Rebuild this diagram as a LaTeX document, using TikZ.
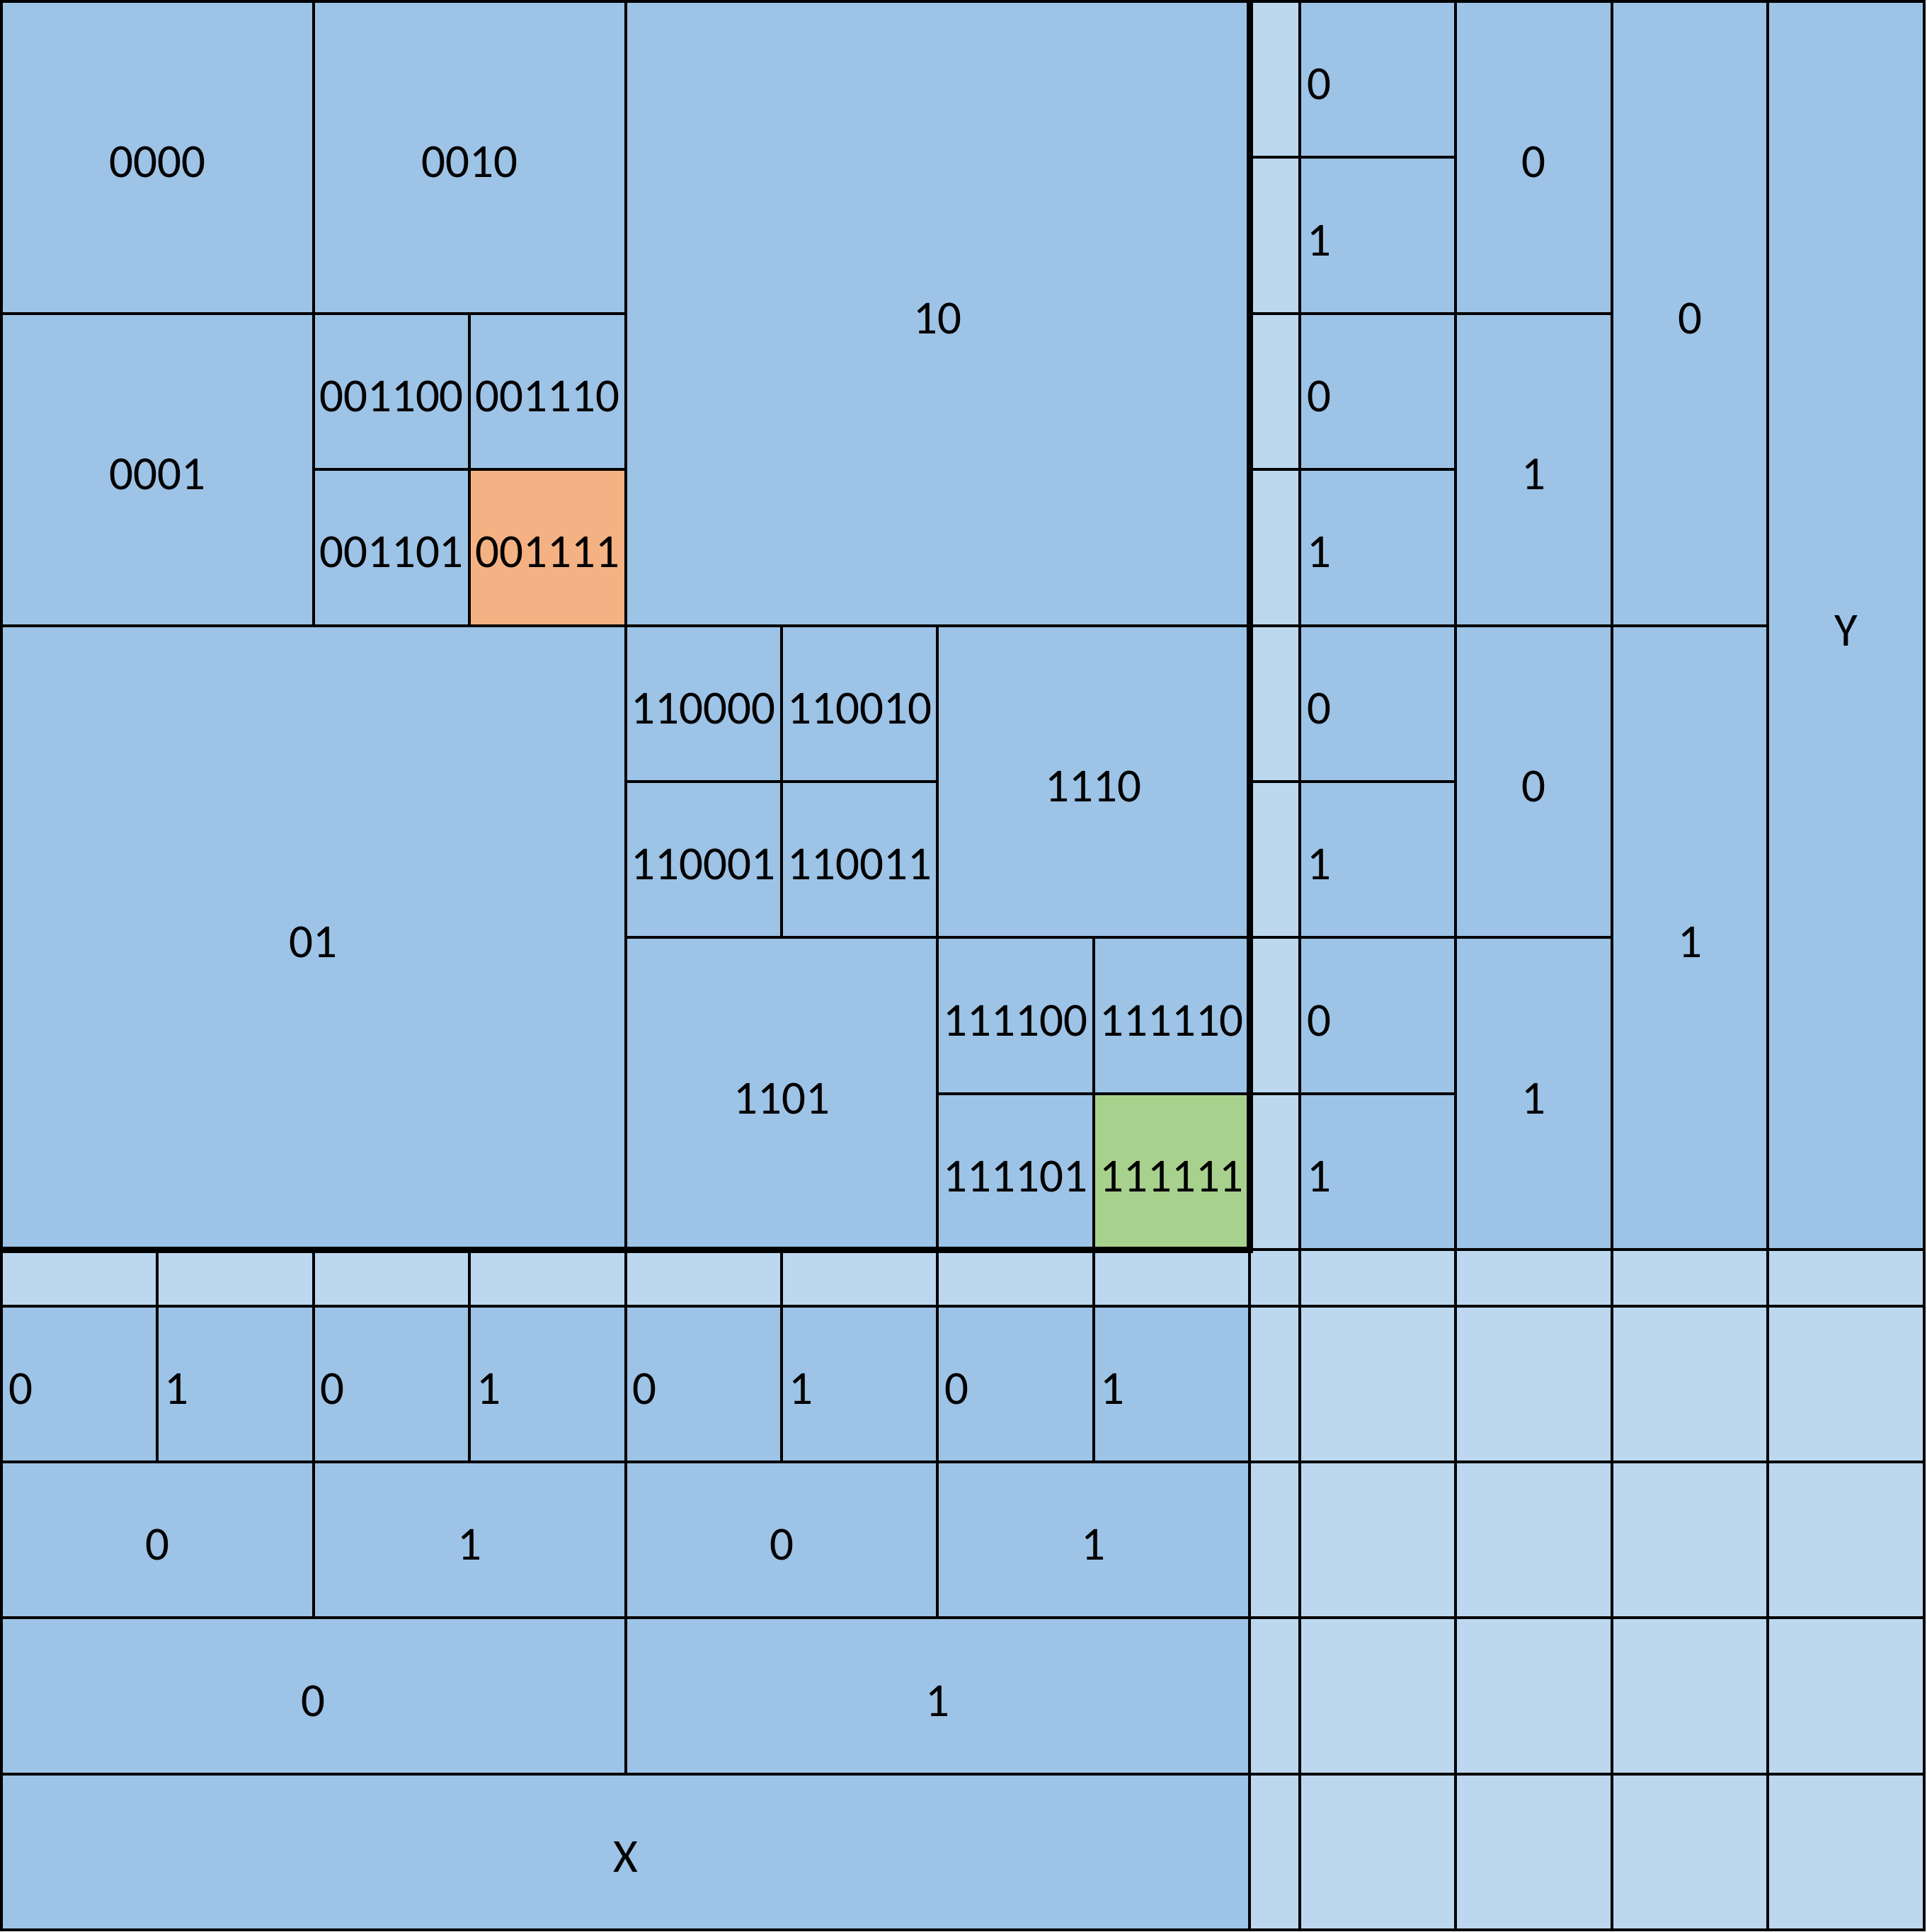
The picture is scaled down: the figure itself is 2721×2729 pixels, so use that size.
\documentclass[tikz,border=0pt]{standalone}
\usepackage{fontspec}
\setmainfont{Carlito}
\usetikzlibrary{calc}
\definecolor{cblue}{HTML}{9DC3E6}
\definecolor{clight}{HTML}{BDD7EE}
\definecolor{corange}{HTML}{F4B183}
\definecolor{cgreen}{HTML}{A9D18E}
\newcommand\lblfont{\fontsize{67}{80}\selectfont}
\tikzset{
  bluecell/.style={fill=cblue, draw=black, line width=4pt},
  lightcell/.style={fill=clight, draw=black, line width=4pt},
  orangecell/.style={fill=corange, draw=black, line width=4pt},
  greencell/.style={fill=cgreen, draw=black, line width=4pt},
  lbl/.style={font=\lblfont, inner sep=0pt, text=black, yshift=-7pt},
  lbll/.style={lbl, anchor=west},
  thickedge/.style={draw=black, line width=9pt, line join=miter}
}
% #1 style, #2 name, #3 x1, #4 y1, #5 x2, #6 y2, #7 label
\newcommand\blk[7]{%
  \path[#1] (#3,#4) rectangle (#5,#6);
  \node[lbl] (#2) at ($(#3,#4)!0.5!(#5,#6)$) {#7};
}
\begin{document}
\begin{tikzpicture}[x=1pt,y=-1pt]
\useasboundingbox (0,0) rectangle (2721,2729);
\begin{scope}[shift={(2,2)}, x=220.4pt, y=-220.4pt]
\def\sx{8.321}
\def\sy{8.36}
% ---- main quadtree ----
\blk{bluecell}{c0000}{0}{0}{2}{2}{0000}
\blk{bluecell}{c0010}{2}{0}{4}{2}{0010}
\blk{bluecell}{c0001}{0}{2}{2}{4}{0001}
\blk{bluecell}{c001100}{2}{2}{3}{3}{001100}
\blk{bluecell}{c001110}{3}{2}{4}{3}{001110}
\blk{bluecell}{c001101}{2}{3}{3}{4}{001101}
\blk{orangecell}{c001111}{3}{3}{4}{4}{001111}
\blk{bluecell}{c10}{4}{0}{8}{4}{10}
\blk{bluecell}{c01}{0}{4}{4}{8}{01}
\blk{bluecell}{c110000}{4}{4}{5}{5}{110000}
\blk{bluecell}{c110010}{5}{4}{6}{5}{110010}
\blk{bluecell}{c110001}{4}{5}{5}{6}{110001}
\blk{bluecell}{c110011}{5}{5}{6}{6}{110011}
\blk{bluecell}{c1110}{6}{4}{8}{6}{1110}
\blk{bluecell}{c1101}{4}{6}{6}{8}{1101}
\blk{bluecell}{c111100}{6}{6}{7}{7}{111100}
\blk{bluecell}{c111110}{7}{6}{8}{7}{111110}
\blk{bluecell}{c111101}{6}{7}{7}{8}{111101}
\blk{greencell}{c111111}{7}{7}{8}{8}{111111}
% ---- right side (Y) ----
\foreach \k in {0,...,7}{
  \pgfmathtruncatemacro\b{mod(\k,2)}
  \path[lightcell] (8,\k) rectangle (\sx,\k+1);
  \path[bluecell] (\sx,\k) rectangle (\sx+1,\k+1);
  \node[lbll] (ya\k) at (\sx+0.045,\k+0.5) {\b};
}
\foreach \k in {0,...,3}{
  \pgfmathtruncatemacro\b{mod(\k,2)}
  \path[bluecell] (\sx+1,2*\k) rectangle (\sx+2,2*\k+2);
  \node[lbl] (yb\k) at (\sx+1.5,2*\k+1) {\b};
}
\foreach \k in {0,1}{
  \path[bluecell] (\sx+2,4*\k) rectangle (\sx+3,4*\k+4);
  \node[lbl] (yc\k) at (\sx+2.5,4*\k+2) {\k};
}
\path[bluecell] (\sx+3,0) rectangle (\sx+4,8);
\node[lbl] (ylab) at (\sx+3.5,4) {Y};
% ---- bottom side (X) ----
\foreach \k in {0,...,7}{
  \pgfmathtruncatemacro\b{mod(\k,2)}
  \path[lightcell] (\k,8) rectangle (\k+1,\sy);
  \path[bluecell] (\k,\sy) rectangle (\k+1,\sy+1);
  \node[lbll] (xa\k) at (\k+0.045,\sy+0.5) {\b};
}
\foreach \k in {0,...,3}{
  \pgfmathtruncatemacro\b{mod(\k,2)}
  \path[bluecell] (2*\k,\sy+1) rectangle (2*\k+2,\sy+2);
  \node[lbl] (xb\k) at (2*\k+1,\sy+1.5) {\b};
}
\foreach \k in {0,1}{
  \path[bluecell] (4*\k,\sy+2) rectangle (4*\k+4,\sy+3);
  \node[lbl] (xc\k) at (4*\k+2,\sy+2.5) {\k};
}
\path[bluecell] (0,\sy+3) rectangle (8,\sy+4);
\node[lbl] (xlab) at (4,\sy+3.5) {X};
% ---- bottom-right empty grid ----
\path[lightcell] (8,8) rectangle (\sx,\sy);
\foreach \k in {0,...,3}{
  \path[lightcell] (\sx+\k,8) rectangle (\sx+\k+1,\sy);
  \path[lightcell] (8,\sy+\k) rectangle (\sx,\sy+\k+1);
  \foreach \j in {0,...,3}{
    \path[lightcell] (\sx+\k,\sy+\j) rectangle (\sx+\k+1,\sy+\j+1);
  }
}
% ---- thick edges of the main square ----
\draw[thickedge] (8,0) -- (8,8) -- (0,8);
\end{scope}
\end{tikzpicture}
\end{document}
